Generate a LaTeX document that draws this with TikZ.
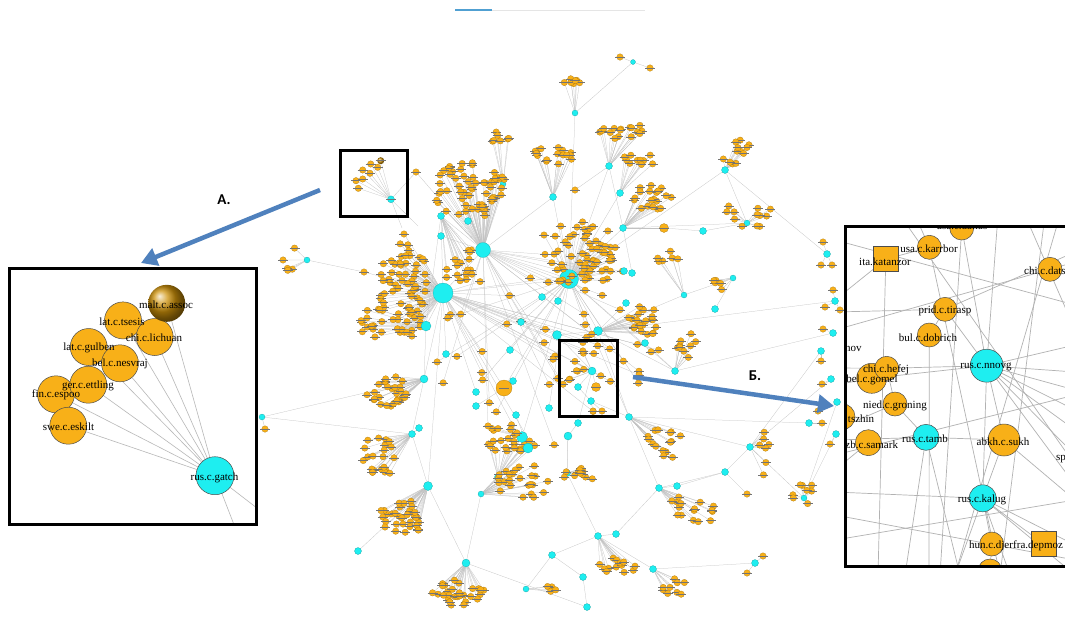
\documentclass[tikz,border=0pt]{standalone}
\usepackage{fontspec}
\newfontfamily\lblfont{Carlito}
\newfontfamily\netfont{Liberation Serif}
\usetikzlibrary{arrows.meta}
\definecolor{nodeor}{RGB}{248,176,24}
\definecolor{nodecy}{RGB}{30,238,240}
\definecolor{arrblue}{RGB}{79,129,189}
\definecolor{topblue}{RGB}{80,160,210}
\definecolor{ballgold}{RGB}{205,145,10}
\pgfdeclarelayer{ifill}
\pgfdeclarelayer{iedge}
\pgfdeclarelayer{inode}
\pgfsetlayers{main,ifill,iedge,inode}
\tikzset{
  ph/.style={circle,inner sep=0pt,minimum size={#1*1pt}},
  leaf/.style={circle,fill=nodeor,draw=nodeor!65!black,line width=0.2pt,inner sep=0pt,minimum size=6.5pt},
  hub/.style={circle,fill=nodecy,draw=nodecy!65!black,line width=0.2pt,inner sep=0pt,minimum size={#1*1pt}},
  orn/.style={circle,fill=nodeor,draw=nodeor!65!black,line width=0.2pt,inner sep=0pt,minimum size={#1*1pt}},
  lmark/.style={draw=black!55,line width=0.45pt},
  medge/.style={draw=black!24,line width=0.25pt},
  bigor/.style={circle,fill=nodeor,draw=black!70,line width=0.5pt,inner sep=0pt,minimum size={#1*1pt}},
  bigcy/.style={circle,fill=nodecy,draw=black!70,line width=0.5pt,inner sep=0pt,minimum size={#1*1pt}},
  bigsq/.style={rectangle,fill=nodeor,draw=black!70,line width=0.5pt,inner sep=0pt,minimum size=25pt},
  ilabel/.style={font=\netfont\fontsize{11}{11}\selectfont,text=black,inner sep=0pt},
  iedge/.style={draw=black!30,line width=0.7pt},
  aedge/.style={draw=black!28,line width=0.6pt},
  boxframe/.style={draw=black,line width=3pt},
  bigarrow/.style={draw=arrblue,line width=4.5pt,-{Triangle[length=16pt,width=18pt]}},
  arrlbl/.style={font=\lblfont\bfseries\fontsize{15}{15}\selectfont,inner sep=0pt}
}
\def\clusterlist{
 575/113/6/577/80/17/5/7,
 609/166/7/622/130/25/9/16,
 503/184/6/497/137/16/5/7,
 553/197/7/554/155/22/10/16,
 620/193/7/640/160/18/7/10,
 623/228/7/652/198/20/14/20,
 725/170/7/735/152/17/17/12,
 747/223/6/750/214/28/14/12,
 483/250/15/470/190/38/28/60,
 443/293/20/405/290/27/48/72,
 569/279/19/580/255/38/36/60,
 426/326/10/372/322/12/18/14,
 307/260/6/289/257/8/14/5,
 598/331/9/640/322/22/16/22,
 684/295/6/668/256/16/7/6,
 733/278/6/718/286/10/8/5,
 424/379/8/385/390/22/18/28,
 412/434/7/380/455/18/22/22,
 428/486/9/405/515/25/18/30,
 466/563/8/458/592/28/14/28,
 498/477/7/510/444/27/8/16,
 481/494/6/523/482/27/18/24,
 526/589/6/553/589/10/4/4,
 567/473/7/583/475/20/8/12,
 598/536/7/620/565/25/8/14,
 653/569/7/670/587/17/10/9,
 659/488/7/692/510/25/17/16,
 629/417/7/665/440/18/23/16,
 675/371/7/688/348/12/18/9,
 750/447/7/763/453/7/22/7,
 804/498/6/805/495/13/13/8,
 522/437/11/505/430/15/8/6,
 592/371/8/575/365/12/20/8,
 441/216/7/458/262/18/20/16}
\def\cyanlist{262/417/6, 358/551/7, 552/555/7, 583/577/7, 587/607/7,
  755/563/7, 725/472/7, 677/486/7, 616/534/7, 703/231/7, 821/351/7, 831/379/7, 837/402/7,
  809/423/7, 836/434/7, 833/333/7, 835/301/7, 827/254/7, 528/448/10, 578/423/7, 568/436/8,
  513/381/7, 476/392/7, 476/406/7, 516/415/7, 549/408/7, 510/350/7, 446/354/7, 557/335/9,
  645/343/7, 521/322/7, 542/297/7, 558/301/7, 624/271/7, 632/273/7, 626/303/7, 715/309/7,
  468/221/7, 441/236/7, 578/387/7, 591/401/7, 419/428/7, 633/62/5}
\def\orangelist{504/388/16, 416/172/6.5, 404/234/6.5, 364/272/6.5, 265/429/6.5,
  620/57/6.5, 650/68/6.5, 664/228/9, 823/242/6.5, 821/265/6.5, 832/265/6.5, 833/290/6.5,
  825/307/6.5, 840/310/6.5, 823/329/6.5, 821/361/6.5, 822/384/6.5, 818/411/6.5, 822/423/6.5,
  830/444/6.5, 763/556/6.5, 747/573/6.5, 747/494/6.5, 385/527/6.5, 596/387/9, 593/411/6.5,
  602/411/6.5, 575/190/6.5, 544/235/6.5, 597/262/6.5}
\def\minilist{370.7/164, 377.7/167.3, 362.7/170, 370/173.3, 356/180.7, 362.7/179, 358.3/188.3}
\begin{document}
\begin{tikzpicture}[x=1pt,y=-1pt]
\useasboundingbox (0,0) rectangle (1065,641);
\fill[white] (0,0) rectangle (1065,641);
% top bar
\coordinate (tb1) at (455,10);
\coordinate (tb2) at (492,10);
\coordinate (tb3) at (645,10);
\draw[black!10,line width=1pt] (tb2) -- (tb3);
\draw[topblue,line width=1.5pt] (tb1) -- (tb2);

% ---- pass 1: place node outlines (invisible) and draw edges ----
\pgfmathsetseed{4242}
\foreach \hx/\hy/\hs/\cx/\cy/\rx/\ry/\n [count=\i] in \clusterlist {
  \node[ph=\hs] (h\i) at (\hx,\hy) {};
  \foreach \j in {1,...,\n}{
    \pgfmathsetmacro\ang{360*rnd}
    \pgfmathsetmacro\rr{sqrt(rnd)}
    \pgfmathsetmacro\lx{\cx+\rx*\rr*cos(\ang)}
    \pgfmathsetmacro\ly{\cy+\ry*\rr*sin(\ang)}
    \node[ph=6.5] (l\i-\j) at (\lx,\ly) {};
    \draw[medge] (h\i) -- (l\i-\j);
  }
}
\foreach \k in {1,...,55}{
  \pgfmathsetmacro\ang{360*rnd}
  \pgfmathsetmacro\rr{sqrt(rnd)}
  \pgfmathsetmacro\sx{545+115*\rr*cos(\ang)}
  \pgfmathsetmacro\sy{345+105*\rr*sin(\ang)}
  \pgfmathtruncatemacro\tg{9+int(2.99*rnd)}
  \node[ph=6.5] (s\k) at (\sx,\sy) {};
  \draw[medge] (h\tg) -- (s\k);
}
\foreach \x/\y/\s [count=\i] in \cyanlist { \node[ph=\s] (c\i) at (\x,\y) {}; }
\foreach \x/\y/\s [count=\i] in \orangelist { \node[ph=\s] (o\i) at (\x,\y) {}; }
% miniature of inset A inside the small frame
\node[ph=7] (mhub) at (391,199.3) {};
\node[ph=7] (mball) at (380.7,160.7) {};
\coordinate (mo1) at (402,228);
\coordinate (mo2) at (418,226);
\foreach \x/\y [count=\i] in \minilist { \node[ph=6.5] (mn\i) at (\x,\y) {}; \draw[medge] (mhub) -- (mn\i); }
\draw[medge] (mhub) -- (mball);
\draw[medge] (mhub) -- (mo1);
\draw[medge] (mhub) -- (mo2);
\foreach \a/\b in {h1/h11, h2/h6, h2/h11, h3/h9, h4/h11, h4/h9, h5/h11, h6/h11, h6/h8,
  h7/h8, h8/c10, c10/o8, o8/h6, h9/h10, h9/h11, h10/h11, h10/h12, h13/o4, o4/h10, h10/h17,
  h12/h17, h17/h18, h18/h19, h19/h20, h19/c2, h20/c5, h11/h14, h14/h15, h15/h16, h16/c37,
  h14/c29, h11/c31, c31/c29, c29/h33, h33/c40, c40/c41, c41/h28, h28/h27, h28/h14, h21/h22,
  h22/c19, h21/c19, h22/h20, h24/h25, h25/c9, c9/h27, h26/h25, h26/c6, h27/c8, c8/c7, c7/h30,
  h30/h31, h31/c13, h23/c3, c3/h25, c4/c3, c5/c4, h29/h14, h29/c30, h30/h28, c1/h18, c22/o1,
  o1/h10, o1/h11, c23/h10, c24/o1, c25/c19, c26/h11, c27/h11, c28/h10, c32/h11, c33/h11,
  c34/h11, c35/h6, c36/h14, c38/h9, c39/h9, c42/h18, c20/c21, c21/h24, c20/h33, h11/h7,
  h11/h28, h10/h19, h32/h21, h32/c19, h32/h11, h34/h10, h34/h9, c43/o6, c43/o7, c43/h1,
  o9/c18, o10/c18, o11/c18, c18/h7, o12/c17, o13/c17, o14/c17, c17/h14, o15/c16, c16/h29,
  o16/c11, c11/h30, o17/c12, c12/h30, o18/c13, o19/c14, c14/h28, o20/c15, c15/h31,
  o21/c6, o22/c6, o23/c7, o24/h19, o25/h33, o26/c41, o27/c41, o28/h2, o29/h11, o30/h11,
  o2/h9, o3/h10, o5/c1, c1/h17, h12/h34, h24/c21, h27/c7, h29/h11, o2/mhub}{
  \draw[medge] (\a) -- (\b);
}

% ---- pass 2: visible nodes ----
\foreach \hx/\hy/\hs/\cx/\cy/\rx/\ry/\n [count=\i] in \clusterlist {
  \node[hub=\hs] (vh\i) at (h\i) {};
  \foreach \j in {1,...,\n}{
    \node[leaf] (vl\i-\j) at (l\i-\j) {};
    \draw[lmark] ([xshift=-5pt]vl\i-\j.center) -- ([xshift=5pt]vl\i-\j.center);
  }
}
\foreach \k in {1,...,55}{
  \node[leaf] (vs\k) at (s\k) {};
  \draw[lmark] ([xshift=-5pt]vs\k.center) -- ([xshift=5pt]vs\k.center);
}
\foreach \x/\y/\s [count=\i] in \cyanlist { \node[hub=\s] (vc\i) at (c\i) {}; }
\foreach \x/\y/\s [count=\i] in \orangelist {
  \node[orn=\s] (vo\i) at (o\i) {};
  \draw[lmark] ([xshift=-5pt]vo\i.center) -- ([xshift=5pt]vo\i.center);
}
\foreach \x/\y [count=\i] in \minilist {
  \node[leaf] (vmn\i) at (mn\i) {};
  \draw[lmark] ([xshift=-5pt]vmn\i.center) -- ([xshift=5pt]vmn\i.center);
}
\node[circle,ball color=ballgold,minimum size=7pt,inner sep=0pt] (vmball) at (mball) {};
\draw[lmark] ([xshift=-5pt]vmball.center) -- ([xshift=5pt]vmball.center);
\node[hub=7] (vmhub) at (mhub) {};
\draw[lmark] ([xshift=-5pt]vmhub.center) -- ([xshift=5pt]vmhub.center);

% ---------- inset A ----------
\begin{pgfonlayer}{ifill}
\fill[white] (9,268) rectangle (256,524);
\fill[white] (845,226) rectangle (1070,566);
\end{pgfonlayer}
\begin{pgfonlayer}{inode}
\begin{scope}
\clip (9,268) rectangle (256,524);
\node[bigor=37] (tsesis) at (123,320.4) {};
\node[bigor=37] (lichuan) at (154.7,337) {};
\node[circle,ball color=ballgold,minimum size=37pt,inner sep=0pt] (malt) at (166.7,303.3) {};
\node[bigor=37] (gulben) at (88.7,347) {};
\node[bigor=37] (nesvraj) at (120,363.3) {};
\node[bigor=37] (espoo) at (56,394.3) {};
\node[bigor=37] (ettling) at (88.3,384.7) {};
\node[bigor=37] (eskilt) at (68.3,425.7) {};
\node[bigcy=38] (gatch) at (215,475.7) {};
\node[ilabel] (tmalt) at (166,305) {malt.c.assoc};
\node[ilabel] (ttsesis) at (122,322) {lat.c.tsesis};
\node[ilabel] (tlichuan) at (154,338) {chi.c.lichuan};
\node[ilabel] (tgulben) at (89,348) {lat.c.gulben};
\node[ilabel] (tnesvraj) at (120,364) {bel.c.nesvraj};
\node[ilabel] (tettling) at (88,386) {ger.c.ettling};
\node[ilabel] (tespoo) at (56,395) {fin.c.espoo};
\node[ilabel] (teskilt) at (68.5,427) {swe.c.eskilt};
\node[ilabel] (tgatch) at (214.5,478) {rus.c.gatch};
\end{scope}
% ---------- inset B ----------
\begin{scope}
\clip (845,226) rectangle (1070,566);
\node[bigor=24] (dallas) at (961.7,228) {};
\node[bigsq] (katanzor) at (885.8,259.2) {};
\node[bigor=24] (karrbor) at (929.3,247.3) {};
\node[bigor=24] (dats) at (1050,269.3) {};
\node[bigor=24] (tirasp) at (945,309.3) {};
\node[bigor=24] (dobrich) at (929.3,335) {};
\node[bigcy=33] (nnovg) at (986.7,365.7) {};
\node[bigor=30] (gomel) at (871.7,378.3) {};
\node[bigor=24] (hefej) at (886.7,368.3) {};
\node[bigor=24] (groning) at (895,404) {};
\node[bigor=26] (tszhin) at (842,416.7) {};
\node[bigor=26] (samark) at (868.3,442.7) {};
\node[bigcy=26] (tamb) at (926,437.3) {};
\node[bigor=32] (sukh) at (1004,440) {};
\node[bigcy=27] (kalug) at (982.7,498.3) {};
\node[bigor=24] (djer) at (991.7,544) {};
\node[bigsq] (depmoz) at (1043.8,544.2) {};
\node[bigor=24] (botnode) at (990,571) {};
\node[ilabel] (tdallas) at (962,226) {usa.c.dallas};
\node[ilabel] (tkatanzor) at (885,262) {ita.katanzor};
\node[ilabel] (tkarrbor) at (929,249) {usa.c.karrbor};
\node[ilabel,anchor=west] (tdats) at (1024,271) {chi.c.dats};
\node[ilabel] (ttirasp) at (945,311) {prid.c.tirasp};
\node[ilabel] (tdobrich) at (928,337.5) {bul.c.dobrich};
\node[ilabel] (tnnovg) at (986,367) {rus.c.nnovg};
\node[ilabel] (thefej) at (886,370) {chi.c.hefej};
\node[ilabel] (tgomel) at (872,380) {bel.c.gomel};
\node[ilabel,anchor=west] (tnov) at (845,349) {nov};
\node[ilabel] (tgroning) at (895,405.5) {nied.c.groning};
\node[ilabel,anchor=west] (ttszhin) at (845,418.5) {.tszhin};
\node[ilabel] (tsamark) at (869,445) {uzb.c.samark};
\node[ilabel] (ttamb) at (925,439) {rus.c.tamb};
\node[ilabel] (tsukh) at (1003,442) {abkh.c.sukh};
\node[ilabel,anchor=west] (tsp) at (1056,459) {sp};
\node[ilabel] (tkalug) at (982,500) {rus.c.kalug};
\node[ilabel] (tdjer) at (991,545.5) {hun.c.djer};
\node[ilabel,anchor=west] (tdepmoz) at (1013,545.5) {fra.depmoz};
\end{scope}
\end{pgfonlayer}

\begin{pgfonlayer}{iedge}
\begin{scope}
\clip (9,268) rectangle (256,524);
\coordinate (gA1) at (238,535);
\coordinate (gA2) at (266,515);
\foreach \a in {tsesis,lichuan,malt,gulben,nesvraj,espoo,ettling,eskilt,gA1,gA2}{
  \draw[aedge] (gatch) -- (\a);
}
\end{scope}
\begin{scope}
\clip (845,226) rectangle (1070,566);
\foreach \nm/\x/\y in {r1/1075/345, r2/1075/372, r3/1075/390, r4/1075/410, r5/1075/430,
  r6/1075/455, r7/1075/485, r8/1075/545, r9/1075/262, r10/1075/252, r11/1075/305,
  r12/1075/465, r13/1075/395, r14/1075/500, r15/1075/560, r16/1075/330,
  t1/998/215, t2/915/215, t3/900/215, t4/1045/215, t5/1060/215, t6/1025/215,
  b1/1075/575, b2/1010/575, b3/955/575, b4/905/575, b5/960/575, b6/929/575, b7/878/575,
  b8/1000/575, b9/940/575, b10/1000/575, b11/955/575,
  l1/835/492, l2/835/440, l3/835/300, l4/835/368, l5/835/385, l6/835/430, l7/835/470,
  l8/835/418, l9/835/330, l10/835/312, l11/835/240, l12/835/455, l13/835/540, l14/835/515}{
  \coordinate (\nm) at (\x,\y);
}
\foreach \a/\b in {nnovg/sukh, nnovg/kalug, nnovg/hefej, nnovg/gomel, nnovg/dallas,
  nnovg/tirasp, kalug/djer, kalug/depmoz, kalug/sukh, tamb/sukh, tamb/groning, hefej/groning,
  katanzor/karrbor, dobrich/tirasp, nnovg/r1, nnovg/r2, nnovg/r3, nnovg/r4, nnovg/r5,
  nnovg/r6, nnovg/r7, nnovg/t1, kalug/r8, kalug/b1, kalug/b2, kalug/l1, kalug/b3, tamb/b4,
  tamb/b5, dobrich/b6, katanzor/b7, katanzor/l3, karrbor/t2, karrbor/b8, dallas/b9,
  hefej/l4, gomel/l5, groning/l6, samark/l7, tszhin/l8, dats/r9, dats/l9, tirasp/l10,
  tirasp/r10, l11/r11, t3/r12, l12/r13, l13/r14, t4/b10, t5/b11, l14/r15, t6/r16,
  tamb/l2, djer/botnode, sukh/r14}{
  \draw[iedge] (\a) -- (\b);
}
\end{scope}
\end{pgfonlayer}

% ---------- frames, arrows, labels ----------
\begin{pgfonlayer}{inode}
\draw[boxframe] (9,268) rectangle (256,524);
\draw[boxframe] (845,226) rectangle (1070,566);
\draw[boxframe] (340,150) rectangle (407,216);
\draw[boxframe] (559,340) rectangle (617,416);
\coordinate (aAs) at (320,190);
\coordinate (aAe) at (141,263);
\coordinate (aBs) at (633,377);
\coordinate (aBe) at (834,406);
\draw[bigarrow] (aAs) -- (aAe);
\draw[bigarrow] (aBs) -- (aBe);
\node[arrlbl] (labA) at (224,200) {A.};
\node[arrlbl] (labB) at (755,376) {Б.};
\end{pgfonlayer}
\end{tikzpicture}
\end{document}
